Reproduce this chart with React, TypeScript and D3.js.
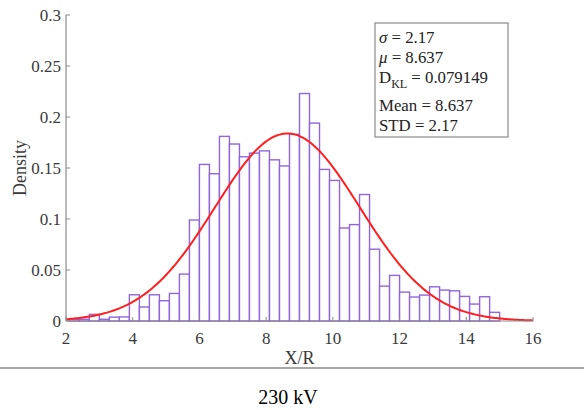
import React from "react";
import * as d3 from "d3";

// Histogram bins (X/R), width 0.3 starting at 2.1
const binStart = 2.1;
const binWidth = 0.3;
const densities = [
  0.0017, 0.0017, 0.0065, 0.0017, 0.0038, 0.004, 0.0257, 0.0137, 0.0257, 0.0199,
  0.027, 0.046, 0.099, 0.1535, 0.1444, 0.181, 0.1735, 0.161, 0.1646, 0.1668,
  0.158, 0.152, 0.183, 0.223, 0.194, 0.1486, 0.1378, 0.0912, 0.0945, 0.124,
  0.0704, 0.0342, 0.0447, 0.0283, 0.0235, 0.0254, 0.0335, 0.0303, 0.0296, 0.0241,
  0.0166, 0.0238, 0.0085,
];

// Fitted normal distribution parameters
const mu = 8.637;
const sigma = 2.17;
const dkl = "0.079149";

const xTicks = [2, 4, 6, 8, 10, 12, 14, 16];
const yTicks = [0, 0.05, 0.1, 0.15, 0.2, 0.25, 0.3];
const xTickLabels = ["2", "4", "6", "8", "10", "12", "14", "16"];
const yTickLabels = ["0", "0.05", "0.1", "0.15", "0.2", "0.25", "0.3"];

const W = 584;
const H = 410;
const FONT = "'Liberation Serif', 'Times New Roman', serif";
const AXIS = "#8a8a8a";
const TEXT = "#3a3a3a";
const BAR = "#9066dc";
const CURVE = "#ff1f1f";

export default function App() {
  const x = d3.scaleLinear().domain([2, 16]).range([66, 533]);
  const y = d3.scaleLinear().domain([0, 0.3]).range([321, 15]);

  const pdf = (v: number) =>
    Math.exp(-0.5 * ((v - mu) / sigma) ** 2) / (sigma * Math.sqrt(2 * Math.PI));
  const curvePts = d3.range(2, 16.0001, 0.05).map((v) => [v, pdf(v)] as [number, number]);
  const line = d3
    .line<[number, number]>()
    .x((d) => x(d[0]))
    .y((d) => y(d[1]))
    .curve(d3.curveLinear);

  const lineH = 20;
  return (
    <svg
      width={W}
      height={H}
      style={{ position: "absolute", left: 0, top: 0, background: "#fff" }}
      fontFamily={FONT}
    >
      {/* histogram bars */}
      <g>
        {densities.map((d, i) => {
          const x0 = binStart + i * binWidth;
          return (
            <rect
              key={i}
              x={x(x0)}
              y={y(d)}
              width={x(x0 + binWidth) - x(x0)}
              height={y(0) - y(d)}
              fill="#fff"
              stroke={BAR}
              strokeWidth={1.4}
            />
          );
        })}
      </g>

      {/* fitted normal curve */}
      <path d={line(curvePts) || ""} fill="none" stroke={CURVE} strokeWidth={2} />

      {/* y axis */}
      <line x1={x(2)} x2={x(2)} y1={y(0)} y2={y(0.3)} stroke={AXIS} strokeWidth={1.2} />
      {yTicks.map((t, i) => (
        <g key={"y" + i}>
          <line x1={x(2)} x2={x(2) + 4} y1={y(t)} y2={y(t)} stroke={AXIS} />
          <text
            x={61}
            y={y(t)}
            textAnchor="end"
            dominantBaseline="central"
            fontSize={17}
            fill={TEXT}
          >
            {yTickLabels[i]}
          </text>
        </g>
      ))}

      {/* x axis */}
      <line x1={x(2)} x2={x(16)} y1={y(0)} y2={y(0)} stroke={AXIS} strokeWidth={1.2} />
      {xTicks.map((t, i) => (
        <g key={"x" + i}>
          <line x1={x(t)} x2={x(t)} y1={y(0)} y2={y(0) - 4} stroke={AXIS} />
          <text
            x={x(t)}
            y={338}
            textAnchor="middle"
            dominantBaseline="central"
            fontSize={17}
            fill={TEXT}
          >
            {xTickLabels[i]}
          </text>
        </g>
      ))}

      {/* axis labels */}
      <text
        x={(x(2) + x(16)) / 2}
        y={358}
        textAnchor="middle"
        dominantBaseline="central"
        fontSize={18}
        fill={TEXT}
      >
        X/R
      </text>
      <text
        transform={`translate(20, ${(y(0) + y(0.3)) / 2}) rotate(-90)`}
        textAnchor="middle"
        dominantBaseline="central"
        fontSize={18}
        fill={TEXT}
      >
        Density
      </text>

      {/* statistics box */}
      <rect x={375} y={23} width={133} height={114} fill="#fff" stroke={AXIS} strokeWidth={1.2} />
      <g fontSize={16.8} fill="#222">
        <text x={379} y={37} dominantBaseline="central">
          <tspan fontStyle="italic">σ</tspan> = {sigma}
        </text>
        <text x={379} y={37 + lineH} dominantBaseline="central">
          <tspan fontStyle="italic">μ</tspan> = {mu}
        </text>
        <text x={379} y={37 + lineH * 2} dominantBaseline="central">
          D
          <tspan fontSize={12} dy={7}>
            KL
          </tspan>
          <tspan dy={-7}> = {dkl}</tspan>
        </text>
        <text x={379} y={105} dominantBaseline="central">
          Mean = {mu}
        </text>
        <text x={379} y={125} dominantBaseline="central">
          STD = {sigma}
        </text>
      </g>

      {/* caption separator and caption */}
      <line x1={0} x2={W} y1={368} y2={368} stroke="#8a8a8a" strokeWidth={1.5} />
      <text x={288} y={397} textAnchor="middle" dominantBaseline="central" fontSize={20} fill="#000">
        230 kV
      </text>
    </svg>
  );
}
